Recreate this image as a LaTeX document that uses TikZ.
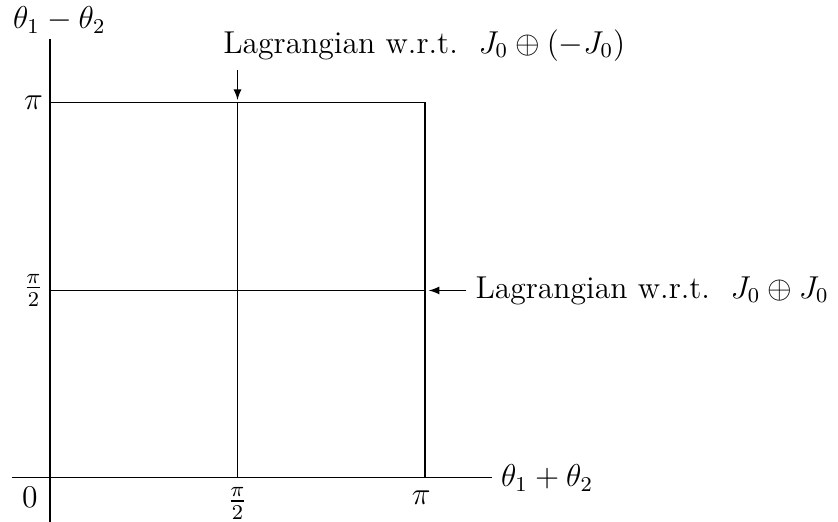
\documentclass[tikz,border=0pt]{standalone}
\usepackage{amsmath}
\usepackage{amssymb}
\begin{document}
\begin{tikzpicture}[>=latex, every node/.style={font=\large}]
\useasboundingbox (-0.667,-0.587) rectangle (10.507,6.373);
% axes
\coordinate (O) at (0,0);
\coordinate (Xs) at (-0.51,0);
\coordinate (Xe) at (5.89,0);
\coordinate (Ys) at (0,-0.587);
\coordinate (Ye) at (0,5.85);
\draw (Xs) -- (Xe);
\draw (Ys) -- (Ye);
\node[right] (xl) at (Xe) {$\theta_1+\theta_2$};
\node[anchor=north west, inner sep=0pt] (yl) at (-0.5,6.29) {$\theta_1-\theta_2$};
% square
\coordinate (A) at (5,0);
\coordinate (B) at (5,5);
\coordinate (C) at (0,5);
\coordinate (M1) at (2.5,0);
\coordinate (M2) at (2.5,5);
\coordinate (M3) at (0,2.5);
\coordinate (M4) at (5,2.5);
\draw (A) -- (B) -- (C);
\draw (M1) -- (M2);
\draw (M3) -- (M4);
% ticks
\node (t0) at (-0.27,-0.26) {$0$};
\node[below] (t1) at (M1) {$\frac{\pi}{2}$};
\node (t2) at (4.95,-0.26) {$\pi$};
\node (t3) at (-0.22,5) {$\pi$};
\node (t4) at (-0.22,2.5) {$\frac{\pi}{2}$};
% labels
\node (L1) at (4.99,5.77) {Lagrangian w.r.t.\ \ $J_0\oplus(-J_0)$};
\node[right] (L2) at (5.55,2.5) {Lagrangian w.r.t.\ \ $J_0\oplus J_0$};
\coordinate (P1) at (2.5,5.44);
\coordinate (Q1) at (2.5,5.04);
\coordinate (Q2) at (5.05,2.5);
\draw[->] (P1) -- (Q1);
\draw[->] (L2.west) -- (Q2);
\end{tikzpicture}
\end{document}
